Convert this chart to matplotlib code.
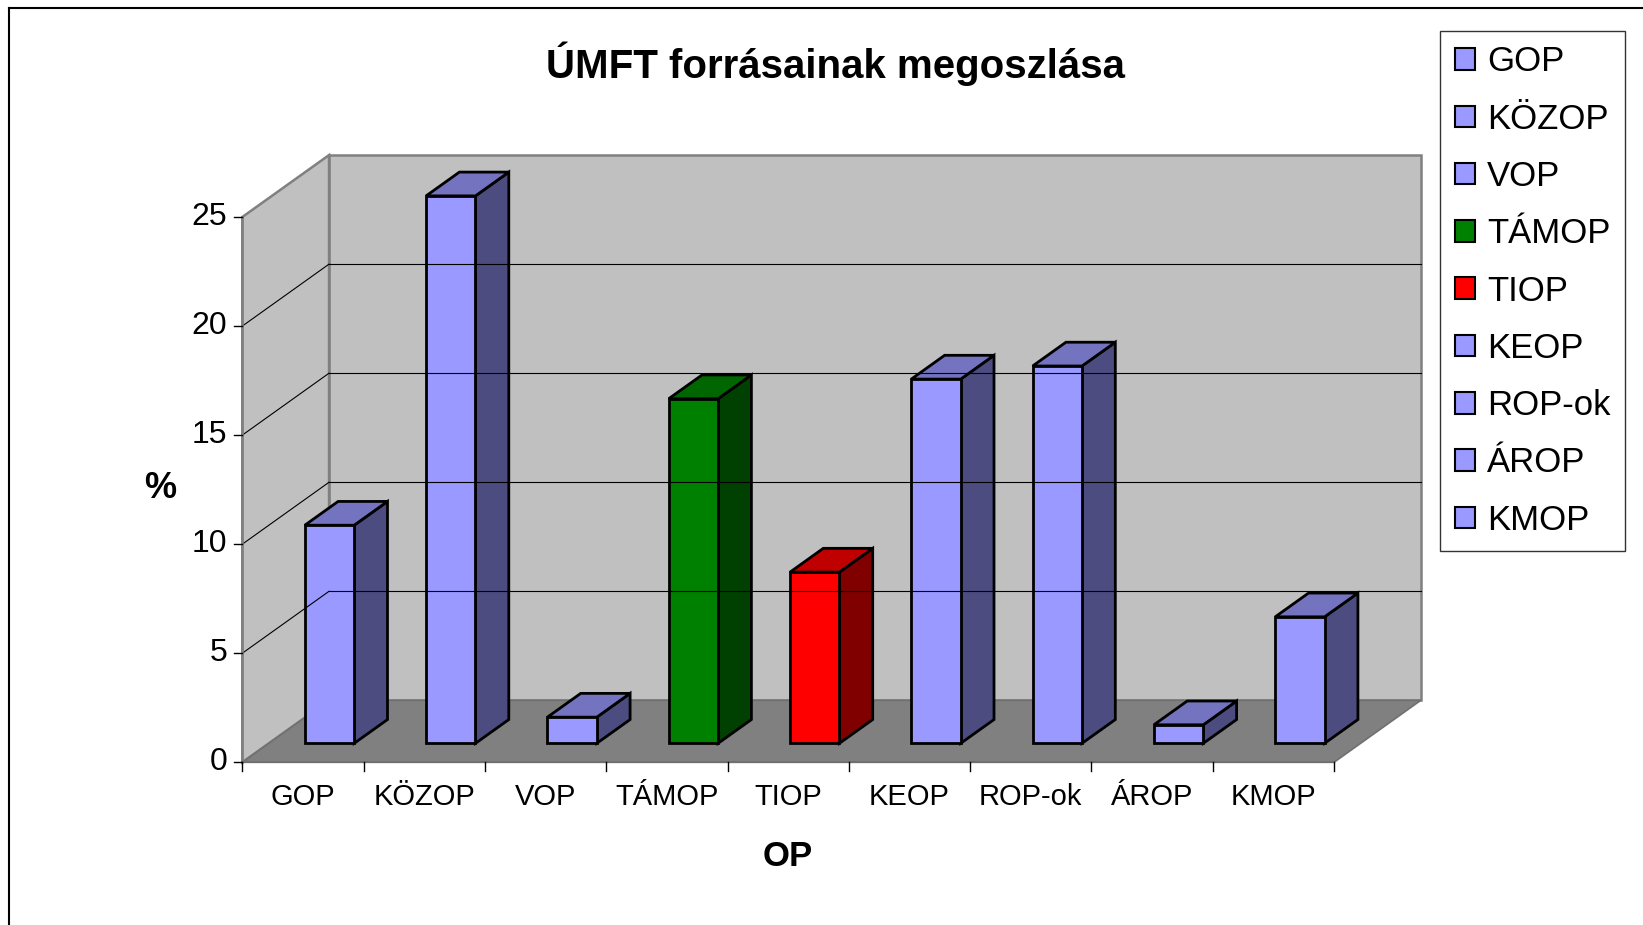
import matplotlib.pyplot as plt
from matplotlib.patches import Polygon, Patch
from matplotlib.lines import Line2D

plt.rcParams['font.family'] = ['Liberation Sans', 'DejaVu Sans']

categories = ['GOP', 'KÖZOP', 'VOP', 'TÁMOP', 'TIOP', 'KEOP', 'ROP-ok', 'ÁROP', 'KMOP']
shares = [10.0, 25.1, 1.2, 15.8, 7.85, 16.7, 17.3, 0.85, 5.8]
value_ticks = [0, 5, 10, 15, 20, 25]

# front, top, side shades
blue = ('#9999FF', '#7373C0', '#4C4C80')
green = ('#008000', '#006600', '#004000')
red = ('#FF0000', '#C00000', '#800000')
bar_colors = [blue, blue, blue, green, red, blue, blue, blue, blue]

# oblique depth offset of the back wall (category units, value units)
DX, DY = 0.715, 2.84
z0, z1 = 0.306, 0.69
bar_w = 0.407
vmax = value_ticks[-1]
n = len(categories)


def P(x, y, z):
    return (x + z * DX, y + z * DY)


fig = plt.figure(figsize=(16.43, 9.25), dpi=100)
ax = fig.add_axes([0, 0, 1, 1])
ax.set_xlim(-1.9975, 11.547)
ax.set_ylim(-7.46, 34.95)
ax.axis('off')

# walls and floor
ax.add_patch(Polygon([P(0, 0, 1), P(n, 0, 1), P(n, vmax, 1), P(0, vmax, 1)],
                     fc='#C0C0C0', ec='#808080', lw=1.8))
ax.add_patch(Polygon([P(0, 0, 0), P(0, 0, 1), P(0, vmax, 1), P(0, vmax, 0)],
                     fc='#C0C0C0', ec='#808080', lw=1.8))
for v in value_ticks[1:-1]:
    ax.plot(*zip(P(0, v, 1), P(n, v, 1)), color='black', lw=0.8)
    ax.plot(*zip(P(0, v, 0), P(0, v, 1)), color='black', lw=0.8)
ax.add_patch(Polygon([P(0, 0, 0), P(n, 0, 0), P(n, 0, 1), P(0, 0, 1)],
                     fc='#808080', ec='#707070', lw=1.2))

# axes lines, ticks, labels
ax.plot(*zip(P(0, 0, 0), P(0, vmax, 0)), color='#808080', lw=1.8)
ax.plot(*zip(P(0, 0, 0), P(n, 0, 0)), color='#707070', lw=1.5)
for v in value_ticks:
    ax.plot([-0.066, 0], [v, v], color='black', lw=1)
    ax.text(-0.126, v, str(v), ha='right', va='center', fontsize=23)
for i in range(n + 1):
    ax.plot([i, i], [0, -0.41], color='black', lw=1)
for i, c in enumerate(categories):
    ax.text(i + 0.5, -1.58, c, ha='center', va='center', fontsize=21)

# bars
for i, (v, (cf, ct, cs)) in enumerate(zip(shares, bar_colors)):
    xl = i + 0.5 - bar_w / 2
    xr = xl + bar_w
    ax.add_patch(Polygon([P(xr, 0, z0), P(xr, 0, z1), P(xr, v, z1), P(xr, v, z0)],
                         fc=cs, ec='black', lw=2, joinstyle='miter'))
    ax.add_patch(Polygon([P(xl, v, z0), P(xr, v, z0), P(xr, v, z1), P(xl, v, z1)],
                         fc=ct, ec='black', lw=2, joinstyle='miter'))
    ax.add_patch(Polygon([P(xl, 0, z0), P(xr, 0, z0), P(xr, v, z0), P(xl, v, z0)],
                         fc=cf, ec='black', lw=2, joinstyle='miter'))

fig.text(0.5088, 0.9307, 'ÚMFT forrásainak megoszlása', ha='center', va='center',
         fontsize=29, fontweight='bold')
fig.text(160 / 1643, 1 - 488 / 925, '%', ha='center', va='center', fontsize=26, fontweight='bold')
fig.text(788 / 1643, 1 - 857 / 925, 'OP', ha='center', va='center', fontsize=25, fontweight='bold')

# chart area border
fig.add_artist(Line2D([9 / 1643, 1], [1 - 8 / 925] * 2, color='black', lw=1.5))
fig.add_artist(Line2D([9 / 1643] * 2, [0, 1 - 8 / 925], color='black', lw=1.5))

handles = [Patch(fc=c[0], ec='black', lw=1.5) for c in bar_colors]
leg = fig.legend(handles, categories, loc='upper left',
                 bbox_to_anchor=(1440 / 1643, 1 - 30.7 / 925), fontsize=25,
                 frameon=True, fancybox=False, edgecolor='black',
                 handlelength=0.58, handleheight=0.58, handletextpad=0.35,
                 labelspacing=0.7, borderpad=0.42, borderaxespad=0)
leg.get_frame().set_linewidth(1.0)

fig.savefig('out.png', dpi=100)
